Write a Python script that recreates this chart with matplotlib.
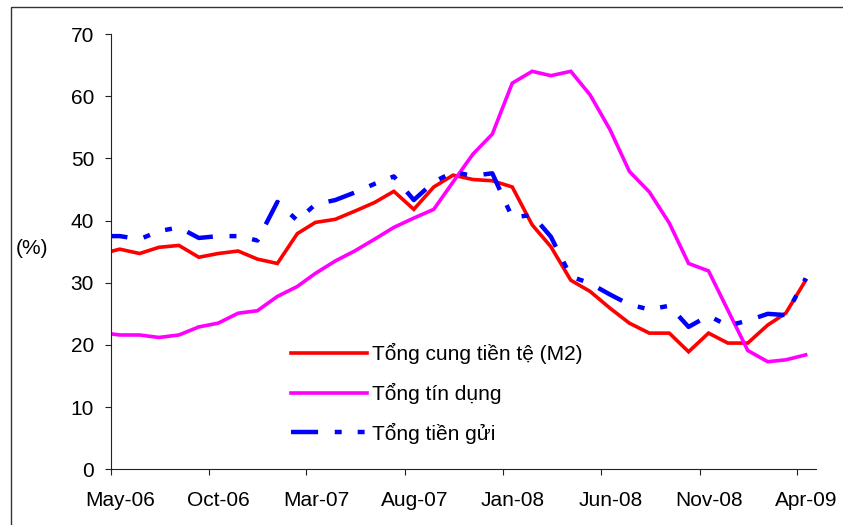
import numpy as np
import pandas as pd
import matplotlib
matplotlib.use("Agg")
import matplotlib.pyplot as plt
from matplotlib.patches import Rectangle

plt.rcParams['font.family'] = ['Liberation Sans', 'DejaVu Sans']
plt.rcParams['lines.scale_dashes'] = False

# Monthly series, Apr-06 .. Apr-09 (Apr-06 only visible as the line entering the axis)
months = pd.date_range("2006-04-01", "2009-04-01", freq="MS")

m2 = [34.6, 35.4, 34.7, 35.7, 36.0, 34.1, 34.7, 35.1, 33.8, 33.1,
      37.9, 39.7, 40.2, 41.5, 42.9, 44.7, 41.8, 45.4, 47.3, 46.6,
      46.4, 45.4, 39.3, 35.8, 30.4, 28.6, 25.9, 23.5, 21.9, 21.9,
      18.9, 21.9, 20.3, 20.3, 23.2, 25.1, 30.4]

credit = [22.0, 21.6, 21.6, 21.2, 21.6, 22.9, 23.5, 25.1, 25.5, 27.8,
          29.4, 31.5, 33.5, 35.1, 37.0, 38.9, 40.4, 41.8, 46.2, 50.7,
          53.9, 62.1, 64.0, 63.3, 64.0, 60.2, 54.6, 47.9, 44.6, 39.6,
          33.1, 31.9, 25.6, 19.1, 17.3, 17.6, 18.4]

deposits = [37.5, 37.5, 37.0, 38.3, 38.9, 37.2, 37.5, 37.5, 36.8, 43.0,
            40.0, 42.6, 43.3, 44.5, 45.9, 47.1, 43.3, 46.2, 47.8, 47.2,
            47.6, 40.5, 40.9, 37.4, 31.0, 29.9, 28.1, 26.5, 25.7, 26.3,
            22.9, 24.7, 23.1, 23.9, 25.0, 24.8, 30.7]

series_labels = ["Tổng cung tiền tệ (M2)", "Tổng tín dụng", "Tổng tiền gửi"]
tick_labels = ["May-06", "Oct-06", "Mar-07", "Aug-07", "Jan-08", "Jun-08", "Nov-08", "Apr-09"]
y_ticks = [0, 10, 20, 30, 40, 50, 60, 70]

W, H = 843, 525
fig = plt.figure(figsize=(W / 100, H / 100), dpi=100)
ax = fig.add_axes([110.7 / W, 1 - 469.3 / H, (816 - 110.7) / W, (469.3 - 34) / H])

x = (months + pd.Timedelta(days=14)).to_numpy()

ax.plot(x, m2, color="#FF0000", lw=2.6, label=series_labels[0], solid_joinstyle="miter")
ax.plot(x, credit, color="#FF00FF", lw=2.6, label=series_labels[1], solid_joinstyle="miter")
ax.plot(x, deposits, color="#0000FF", lw=3.2, label=series_labels[2],
        dashes=(19.5, 12, 5, 11.5, 5, 12), dash_capstyle="butt")

ax.set_xlim(np.datetime64("2006-05-01"), np.datetime64("2009-05-01"))
ax.set_ylim(0, 70)

tick_dates = pd.to_datetime(tick_labels, format="%b-%y")
ax.set_xticks(tick_dates.to_numpy())
ax.set_xticklabels([])
ax.set_xticks((tick_dates + pd.Timedelta(days=15)).to_numpy(), minor=True)
ax.set_xticklabels(tick_labels, minor=True, fontsize=15)
ax.tick_params(axis="x", which="major", direction="out", length=4, width=0.8, color="#222222")
ax.tick_params(axis="x", which="minor", length=0, pad=15.5)

ax.set_yticks(y_ticks)
ax.set_yticklabels([str(v) for v in y_ticks], fontsize=15)
ax.tick_params(axis="y", direction="out", length=4, width=0.8, pad=8, color="#222222")

for s in ["top", "right"]:
    ax.spines[s].set_visible(False)
for s in ["left", "bottom"]:
    ax.spines[s].set_linewidth(0.8)
    ax.spines[s].set_color("#222222")

fig.text(32 / W, 1 - 248 / H, "(%)", fontsize=15, ha="center", va="center")

leg = ax.legend(loc="upper left", bbox_to_anchor=(291 / W, 1 - 343 / H),
                bbox_transform=fig.transFigure, frameon=False, fontsize=15,
                handlelength=3.65, handletextpad=0.25, labelspacing=0.9,
                borderpad=0, borderaxespad=0)

# outer chart-area border (top and left edges visible)
fig.patches.append(Rectangle((11 / W, -0.1), 1.2, 1 - 7 / H + 0.1,
                             transform=fig.transFigure, fill=False,
                             edgecolor="#333333", lw=1.0))

fig.savefig("out.png", dpi=100)
